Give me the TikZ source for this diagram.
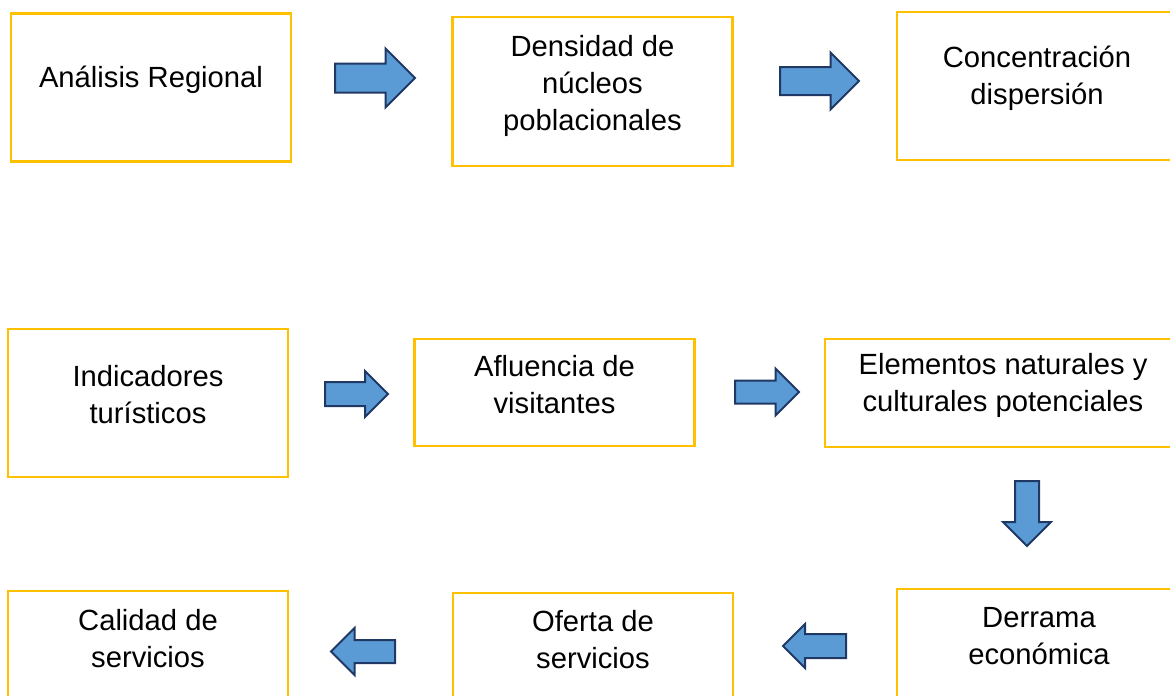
\documentclass[tikz,border=0pt]{standalone}
\usepackage{fontspec}
\setmainfont{Liberation Sans}
\definecolor{BoxGold}{RGB}{255,192,0}
\definecolor{ArrowBlue}{RGB}{91,155,213}
\definecolor{ArrowEdge}{RGB}{32,56,100}
\usetikzlibrary{shapes.arrows, calc}

\begin{document}
\begin{tikzpicture}[x=1pt,y=-1pt,
        caja/.style={rectangle,draw=BoxGold,line width=2.8pt,
                     minimum width=280pt,minimum height=148pt,inner sep=0pt},
        texto/.style={font=\fontsize{29.2}{37}\selectfont,align=center,
                      inner sep=0pt},
        flecha/.style n args={3}{single arrow,draw=ArrowEdge,line width=2pt,
                     fill=ArrowBlue,inner xsep=0pt,inner ysep=#2,anchor=tail,
                     minimum height=#1,single arrow head extend=#3}
      ]
        \useasboundingbox (0,0) rectangle (1170,696);
        \clip (0,0) rectangle (1170,696);

        % fila superior
        \node[caja] (regional) at (151,87.5) {};
        \node[caja,minimum height=149pt] (densidad) at (592.5,91.5) {};
        \node[caja] (concentracion) at (1037,86) {};
        \node[texto] (regionalT) at ([yshift=8pt]regional.center) {Análisis Regional};
        \node[texto] (densidadT) at ([yshift=6pt]densidad.center) {Densidad de\\núcleos\\poblacionales};
        \node[texto] (concentracionT) at ([yshift=8pt]concentracion.center) {Concentración\\dispersión};

        % fila media
        \node[caja] (indicadores) at (148,403) {};
        \node[caja,minimum height=107pt] (afluencia) at (554.5,392.5) {};
        \node[caja,minimum width=356pt,minimum height=108pt] (elementos) at (1003,393) {};
        \node[texto] (indicadoresT) at ([yshift=8pt]indicadores.center) {Indicadores\\turísticos};
        \node[texto] (afluenciaT) at ([yshift=8pt]afluencia.center) {Afluencia de\\visitantes};
        \node[texto] (elementosT) at ([yshift=8pt]elementos.center) {Elementos naturales y\\culturales potenciales};

        % fila inferior
        \node[caja,minimum width=284pt,minimum height=111pt] (derrama) at (1039,644.5) {};
        \node[caja,minimum height=110pt] (oferta) at (593,648) {};
        \node[caja,minimum height=111pt] (calidad) at (148,646.5) {};
        \node[texto] (derramaT) at ([yshift=8pt]derrama.center) {Derrama\\económica};
        \node[texto] (ofertaT) at ([yshift=8pt]oferta.center) {Oferta de\\servicios};
        \node[texto] (calidadT) at ([yshift=8pt]calidad.center) {Calidad de\\servicios};

        % flechas de bloque
        \node[flecha={80pt}{13.5pt}{15pt}] (f1) at (334,78) {};
        \node[flecha={79pt}{13pt}{14.5pt}] (f2) at (779,81) {};
        \node[flecha={63pt}{11pt}{11pt}] (f3) at (324,394) {};
        \node[flecha={64pt}{10.5pt}{12pt}] (f4) at (734,392) {};
        \node[flecha={65pt}{11pt}{12pt},rotate=-90] (f5) at (1027,480) {};
        \node[flecha={63pt}{11pt}{10pt},rotate=180] (f6) at (847,646) {};
        \node[flecha={64pt}{10.5pt}{12pt},rotate=180] (f7) at (396,651.5) {};
      \end{tikzpicture}
\end{document}
